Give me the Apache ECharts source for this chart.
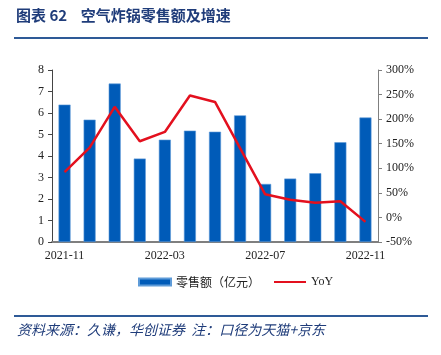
<!DOCTYPE html>
<html><head><meta charset="utf-8">
<script src="https://cdn.jsdelivr.net/npm/echarts@6/dist/echarts.min.js"></script>
<style>html,body{margin:0;padding:0;background:#fff}#c{width:441px;height:355px}</style>
</head><body><div id="c"></div>
<script>
const categories = ['2021-11','2021-12','2022-01','2022-02','2022-03','2022-04','2022-05','2022-06','2022-07','2022-08','2022-09','2022-10','2022-11'];
const salesValues = [6.39, 5.69, 7.37, 3.88, 4.76, 5.18, 5.13, 5.89, 2.70, 2.95, 3.20, 4.64, 5.79];
const yoyValues = [92, 142, 225, 155, 174, 248, 235, 141, 47, 36, 30, 33, -9];
const leftTicks = [0,1,2,3,4,5,6,7,8];
const rightTicks = [-50,0,50,100,150,200,250,300];

const chart = echarts.init(document.getElementById('c'));
const serif = 'Liberation Serif, Times New Roman, serif';
chart.setOption({
  animation: false,
  grid: {left: 52, right: 63, top: 70, bottom: 113},
  legend: {
    bottom: 62, left: 133, itemGap: 14,
    textStyle: {fontFamily: 'Noto Sans CJK SC', fontSize: 12, color: '#222'},
    data: [
      {name: '零售额（亿元）', icon: 'rect', itemStyle: {color: '#005BB8'}},
      {name: 'YoY', icon: 'path://M0,0 L32,0 L32,2 L0,2 Z', textStyle: {fontFamily: serif, fontSize: 12}}
    ],
    itemWidth: 32, itemHeight: 7
  },
  xAxis: {
    type: 'category', data: categories,
    axisLine: {lineStyle: {color: '#7f7f7f', width: 2}},
    axisTick: {interval: 3, lineStyle: {color: '#7f7f7f'}, length: 4},
    axisLabel: {interval: 3, fontFamily: serif, fontSize: 12, color: '#222', margin: 8}
  },
  yAxis: [
    {type: 'value', min: leftTicks[0], max: leftTicks[leftTicks.length-1], interval: 1,
     axisLine: {show: true, lineStyle: {color: '#444'}}, axisTick: {show: true, length: 4, lineStyle: {color: '#444'}},
     splitLine: {show: false},
     axisLabel: {fontFamily: serif, fontSize: 12, color: '#222', margin: 8}},
    {type: 'value', min: rightTicks[0], max: rightTicks[rightTicks.length-1], interval: 50,
     axisLine: {show: true, lineStyle: {color: '#7f7f7f'}}, axisTick: {show: true, length: 4, lineStyle: {color: '#7f7f7f'}},
     splitLine: {show: false},
     axisLabel: {fontFamily: serif, fontSize: 12, color: '#222', margin: 8, formatter: v => v + '%'}}
  ],
  series: [
    {name: '零售额（亿元）', type: 'bar', data: salesValues, barWidth: 12,
     itemStyle: {color: '#005BB8', borderColor: '#5E9BD8', borderWidth: 0.6}},
    {name: 'YoY', type: 'line', yAxisIndex: 1, data: yoyValues, symbol: 'none',
     lineStyle: {color: '#E3101E', width: 2.5}, itemStyle: {color: '#E3101E'}}
  ],
  graphic: [
    {type: 'text', left: 16, top: 8, style: {text: '图表 62    空气炸锅零售额及增速', fontFamily: 'Noto Sans CJK SC', fontWeight: 'bold', fontSize: 15, fill: '#1F3C7A'}},
    {type: 'rect', shape: {x: 14, y: 37, width: 414, height: 2}, style: {fill: '#2E5A97'}},
    {type: 'rect', shape: {x: 14, y: 315, width: 414, height: 2}, style: {fill: '#2E5A97'}},
    {type: 'text', left: 17, top: 323, style: {text: '资料来源：久谦，华创证券  注：口径为天猫+京东', fontFamily: 'Noto Sans CJK SC', fontStyle: 'italic', fontSize: 14, fill: '#1F3C7A'}}
  ]
});
</script></body></html>
